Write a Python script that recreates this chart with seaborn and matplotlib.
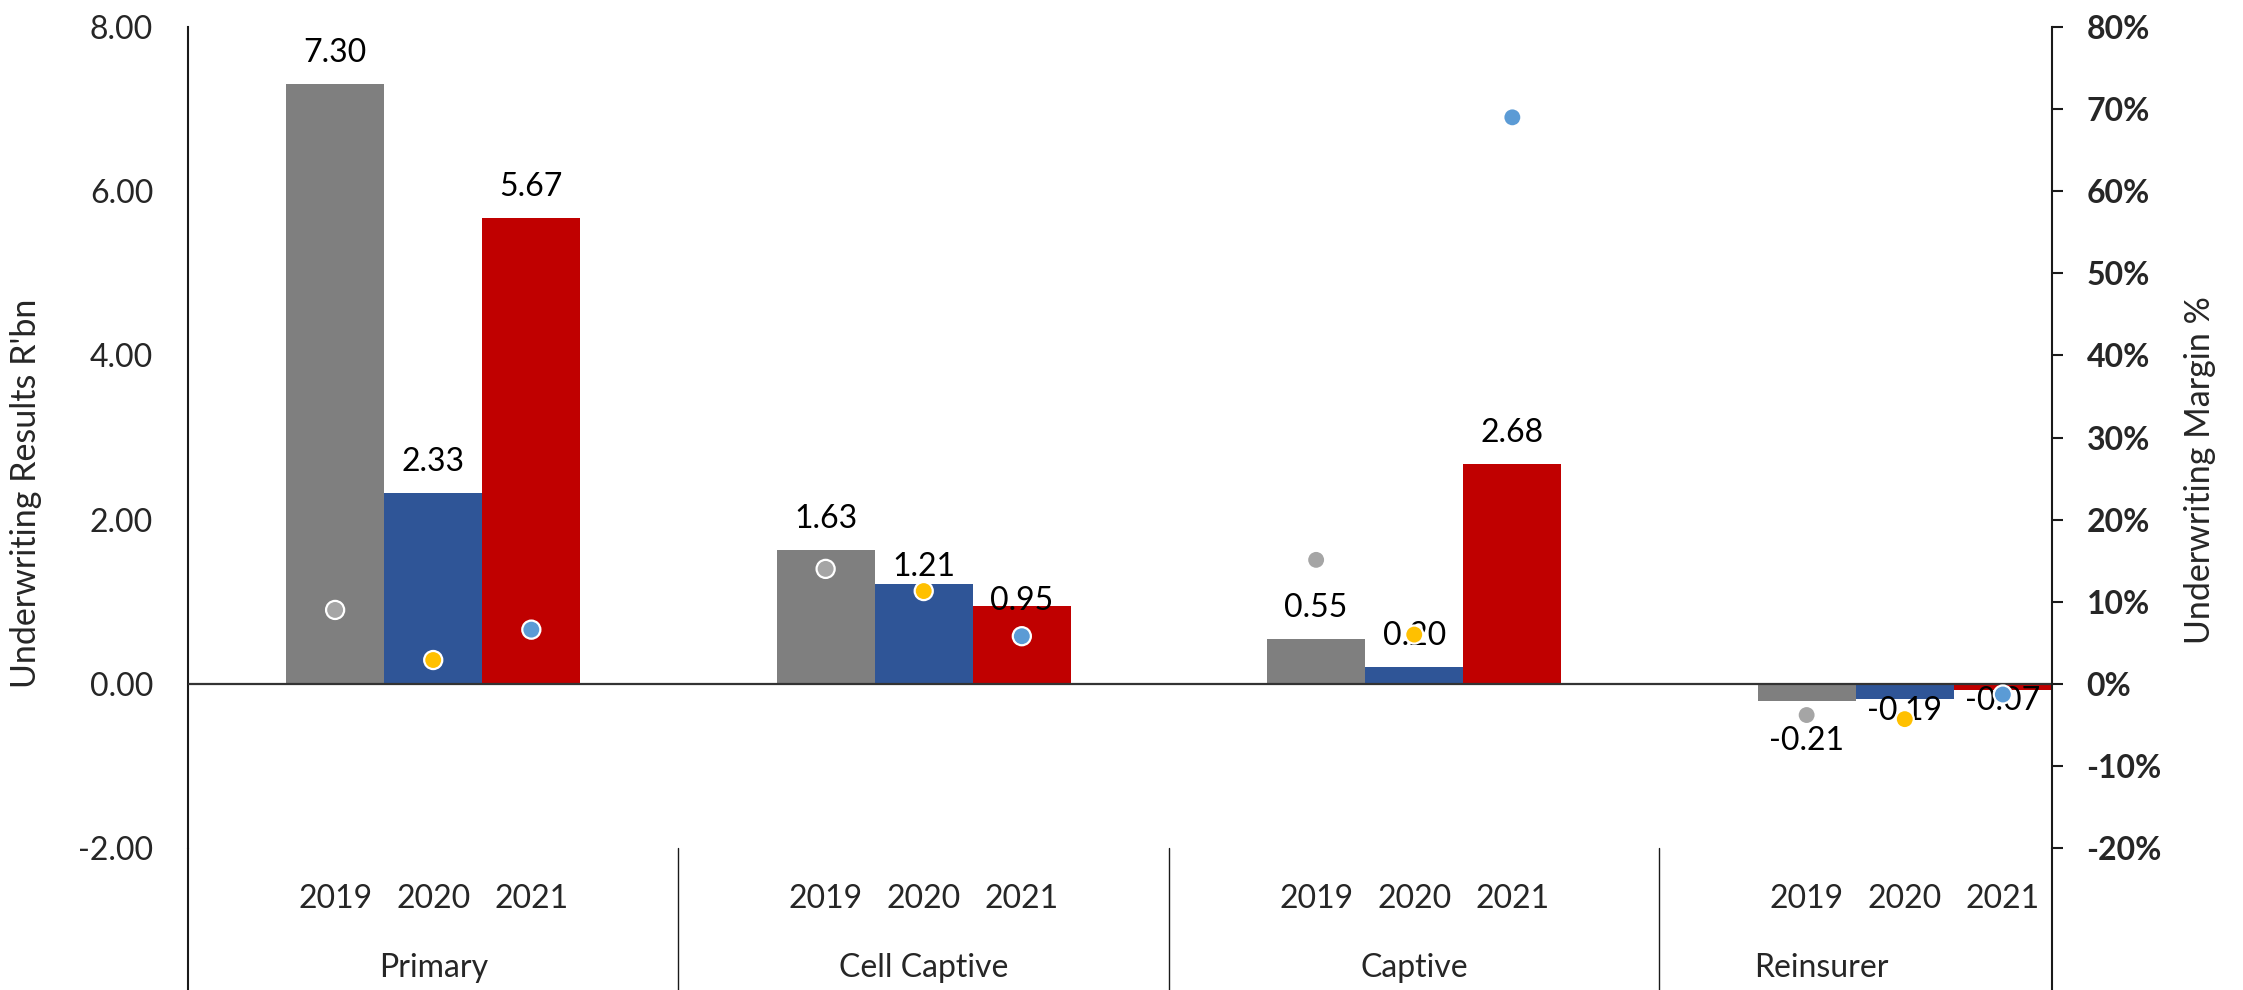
import matplotlib
matplotlib.use("Agg")
import matplotlib.pyplot as plt
import numpy as np
import pandas as pd
import seaborn as sns

# ---- data -------------------------------------------------------------
segments = ["Primary", "Cell Captive", "Captive", "Reinsurer"]
years = ["2019", "2020", "2021"]

# underwriting results, R'bn
results_2019 = [7.30, 1.63, 0.55, -0.21]
results_2020 = [2.33, 1.21, 0.20, -0.19]
results_2021 = [5.67, 0.95, 2.68, -0.07]

# underwriting margin (fraction)
margin_2019 = [0.090, 0.140, 0.151, -0.038]
margin_2020 = [0.029, 0.113, 0.060, -0.043]
margin_2021 = [0.066, 0.058, 0.690, -0.013]

y_ticks_left = [-2, 0, 2, 4, 6, 8]
y_ticks_right = [-0.2, -0.1, 0.0, 0.1, 0.2, 0.3, 0.4, 0.5, 0.6, 0.7, 0.8]

# ---- styling ----------------------------------------------------------
bar_colors = ["#7F7F7F", "#2F5597", "#C00000"]
dot_colors = ["#A5A5A5", "#FFC000", "#5B9BD5"]
bar_width = 0.2
FS = 23

sns.set_theme(style="white")
plt.rcParams["font.family"] = ["Lato", "DejaVu Sans"]
plt.rcParams["axes.unicode_minus"] = False

# long-form table for seaborn
rows = []
for yi, (yr, res, mar) in enumerate(zip(years,
                                       [results_2019, results_2020, results_2021],
                                       [margin_2019, margin_2020, margin_2021])):
    for si, (seg, r, m) in enumerate(zip(segments, res, mar)):
        rows.append({"segment": seg, "year": yr, "result": r, "margin": m,
                     "xpos": si + (yi - 1) * bar_width})
df = pd.DataFrame(rows)

fig = plt.figure(figsize=(22.43, 9.9), dpi=100)
ax = fig.add_axes([0.0838, 0.1434, 0.8310, 0.8293])

sns.barplot(data=df, x="segment", y="result", hue="year", order=segments,
            hue_order=years, palette=bar_colors, width=bar_width * 3,
            saturation=1, errorbar=None, linewidth=0, legend=False, ax=ax,
            zorder=2)

# value labels on bars (gap in pixels between text and bar end)
label_gap = {("Cell Captive", "2020"): 8, ("Cell Captive", "2021"): -4,
             ("Reinsurer", "2020"): -3, ("Reinsurer", "2021"): -4}
for _, row in df.iterrows():
    gap = label_gap.get((row["segment"], row["year"]), 22 if row["result"] >= 0 else 25)
    if row["result"] >= 0:
        ax.annotate(f"{row['result']:.2f}", (row["xpos"], row["result"]),
                    xytext=(0, gap), textcoords="offset pixels",
                    ha="center", va="baseline", fontsize=FS, color="black",
                    zorder=4)
    else:
        ax.annotate(f"{row['result']:.2f}", (row["xpos"], row["result"]),
                    xytext=(0, -gap), textcoords="offset pixels",
                    ha="center", va="top", fontsize=FS, color="black",
                    zorder=4)

ax.axhline(0, color="#333333", lw=1.6, zorder=3)

# margin markers on the secondary axis
ax2 = ax.twinx()
sns.scatterplot(data=df, x="xpos", y="margin", hue="year", hue_order=years,
                palette=dot_colors, s=170, edgecolor="white", linewidth=1.6,
                legend=False, ax=ax2, zorder=5)

# ---- axes -------------------------------------------------------------
ax.set_xlim(-0.5, 3.3)
ax.set_ylim(-2, 8)
ax2.set_ylim(-0.2, 0.8)

ax.set_yticks(y_ticks_left, labels=[f"{v:.2f}" for v in y_ticks_left], fontsize=FS)
ax.tick_params(axis="y", length=0, pad=25)

ax2.set_yticks(y_ticks_right,
               labels=[f"{round(v * 100):d}%" for v in y_ticks_right],
               fontsize=FS, fontweight="bold")
ax2.tick_params(axis="y", length=8, width=1.5, pad=17, direction="out",
                color="#1a1a1a")

tick_pos = [i + (j - 1) * bar_width for i in range(len(segments)) for j in range(len(years))]
ax.set_xticks(tick_pos, labels=years * len(segments), fontsize=FS)
ax.tick_params(axis="x", length=0, pad=26)

ax.set_xlabel("")
ax.set_ylabel("")
ax2.set_xlabel("")
ax2.set_ylabel("")

for side in ["top", "right", "bottom"]:
    ax.spines[side].set_visible(False)
for side in ["top", "left", "bottom"]:
    ax2.spines[side].set_visible(False)
ax.spines["left"].set_color("#1a1a1a")
ax.spines["left"].set_linewidth(1.5)
ax2.spines["right"].set_color("#1a1a1a")
ax2.spines["right"].set_linewidth(1.5)

# category axis box: spines run down past the plot, separators between groups
xtrans = ax.get_xaxis_transform()
ax.plot([0, 0], [0, -0.25], transform=ax.transAxes, color="#1a1a1a",
        lw=1.5, clip_on=False)
ax.plot([1, 1], [0, -0.25], transform=ax.transAxes, color="#1a1a1a",
        lw=1.5, clip_on=False)
for x in [0.5, 1.5, 2.5]:
    ax.plot([x, x], [0, -0.25], transform=xtrans, color="#1a1a1a",
            lw=1.0, clip_on=False)

# group names; the last group is centred on its visible part
group_label_x = [0, 1, 2, 2.83]
for gx, seg in zip(group_label_x, segments):
    ax.text(gx, -0.157, seg, transform=xtrans, ha="center", va="baseline",
            fontsize=FS)

fig.text(26 / 2243, 1 - 493 / 990, "Underwriting Results R'bn", rotation=90,
         ha="center", va="center", fontsize=24.5)
fig.text(2200 / 2243, 1 - 470 / 990, "Underwriting Margin %", rotation=90,
         ha="center", va="center", fontsize=24.5)

fig.savefig("out.png", dpi=100)
